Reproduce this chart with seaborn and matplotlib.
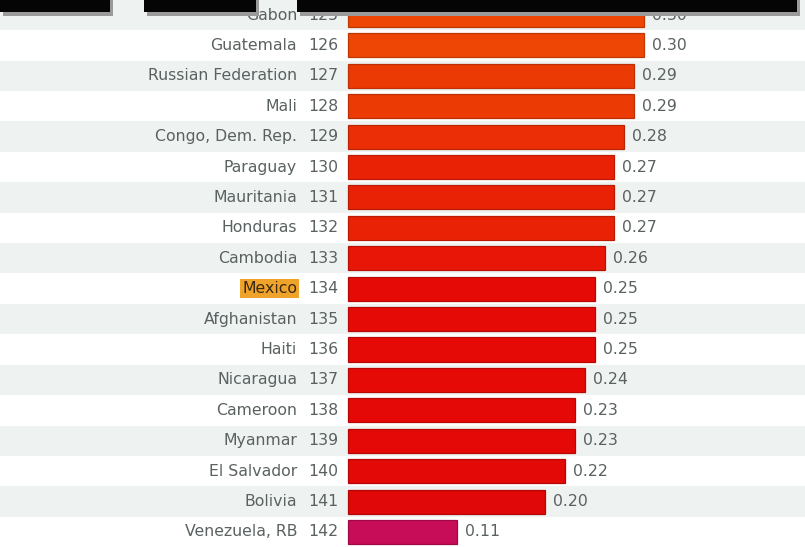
import matplotlib
matplotlib.use("Agg")
import matplotlib.pyplot as plt
import matplotlib.colors as mcolors
from matplotlib.patches import Rectangle
import seaborn as sns
import pandas as pd

countries = ["Gabon", "Guatemala", "Russian Federation", "Mali", "Congo, Dem. Rep.",
             "Paraguay", "Mauritania", "Honduras", "Cambodia", "Mexico", "Afghanistan",
             "Haiti", "Nicaragua", "Cameroon", "Myanmar", "El Salvador", "Bolivia",
             "Venezuela, RB"]
ranks = [125, 126, 127, 128, 129, 130, 131, 132, 133, 134, 135, 136, 137, 138, 139,
         140, 141, 142]
scores = [0.30, 0.30, 0.29, 0.29, 0.28, 0.27, 0.27, 0.27, 0.26, 0.25, 0.25, 0.25,
          0.24, 0.23, 0.23, 0.22, 0.20, 0.11]
highlight = "Mexico"

sns.set_theme(style="white")
plt.rcParams["font.family"] = ["DejaVu Sans"]

df = pd.DataFrame({"country": countries, "rank": ranks, "score": scores})

cmap = mcolors.LinearSegmentedColormap.from_list(
    "wjp", [(0.0, "#c70c58"), (0.47, "#e00808"), (0.74, "#e60a06"), (1.0, "#ee4604")])
norm = mcolors.Normalize(vmin=0.11, vmax=0.30)
palette = [cmap(norm(v)) for v in scores]
edges = [tuple(max(c * 0.8, 0) for c in p[:3]) for p in palette]

W, H = 805, 547
fig = plt.figure(figsize=(W / 100, H / 100), dpi=100)
ax = fig.add_axes([0, 0, 1, 1])

px_per_unit = 987.0
x0 = 348.0
row = 30.41
y_first = 15.0

# alternating row bands
for i, r in enumerate(ranks):
    if r % 2 == 1:
        ax.axhspan(i - 0.5, i + 0.5, color="#eef3f2", zorder=0, lw=0)

sns.barplot(data=df, y="country", x="score", hue="country", palette=palette,
            orient="h", legend=False, ax=ax, width=0.79, saturation=1, zorder=2)
bars = [b for cont in ax.containers for b in cont]
for p, ec in zip(bars, edges):
    p.set_edgecolor(ec)
    p.set_linewidth(0.9)

ax.set_xlim(-x0 / px_per_unit, (W - x0) / px_per_unit)
ax.set_ylim((H - y_first) / row, -y_first / row)
ax.axis("off")

fs = 11.3
text_col = "#5a6161"
for i, (c, r, v) in enumerate(zip(countries, ranks, scores)):
    xn = (297 - x0) / px_per_unit
    xr = (338 - x0) / px_per_unit
    if c == highlight:
        ax.text(xn, i, c, ha="right", va="center", fontsize=fs, color="#3a2a10",
                bbox=dict(boxstyle="square,pad=0.12", fc="#f0a32a", ec="none"), zorder=3)
    else:
        ax.text(xn, i, c, ha="right", va="center", fontsize=fs, color=text_col, zorder=3)
    ax.text(xr, i, str(r), ha="right", va="center", fontsize=fs, color=text_col, zorder=3)
    ax.text(v + 8 / px_per_unit, i, f"{v:.2f}", ha="left", va="center", fontsize=fs,
            color=text_col, zorder=3)

# screenshot header boxes at the top
for (bx, bw) in [(0, 110), (144, 112), (297, 500)]:
    fig.patches.append(Rectangle(((bx + 3) / W, 1 - 16 / H), bw / W, 16 / H,
                                 transform=fig.transFigure, fc="#9a9a9a", ec="none", zorder=10))
    fig.patches.append(Rectangle((bx / W, 1 - 12 / H), bw / W, 12 / H,
                                 transform=fig.transFigure, fc="#050505", ec="none", zorder=11))

fig.savefig("out.png", dpi=100)
